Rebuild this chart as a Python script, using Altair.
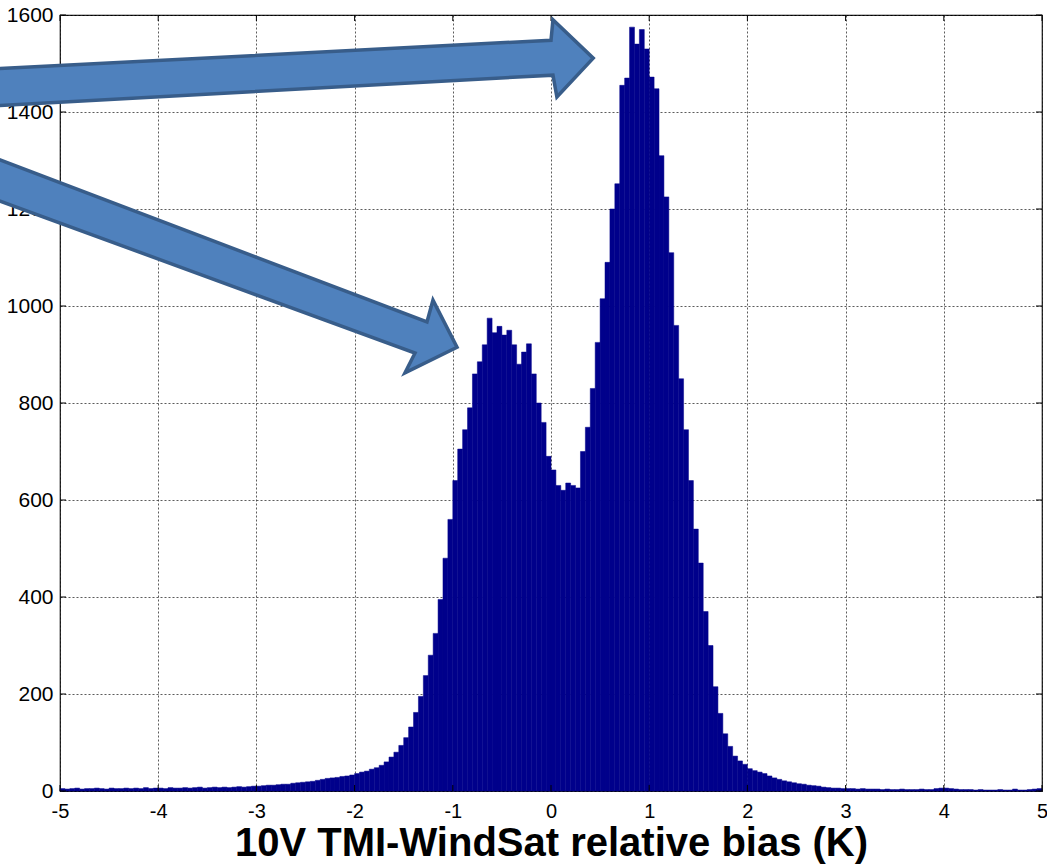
import altair as alt
import pandas as pd

# ---- data ----
BIN_LO = -5.0
BIN_W = 0.05
counts = (
    [5, 4, 5, 6, 4, 5, 5, 6, 5, 4, 6, 5, 5, 6, 5, 6, 5, 7, 5, 6]            # -5 .. -4
    + [6, 5, 7, 6, 6, 7, 6, 7, 8, 6, 7, 8, 7, 8, 7, 8, 9, 8, 9, 10]         # -4 .. -3
    + [10, 11, 12, 12, 13, 14, 14, 16, 17, 18]                              # -3 .. -2.5
    + [19, 20, 22, 24, 26, 27, 28, 30, 31, 33]                              # -2.5 .. -2
    + [36, 39, 41, 45, 48, 53, 60, 70, 80, 94]                              # -2 .. -1.5
    + [110, 132, 162, 195, 238, 280, 325, 395, 480, 560]                    # -1.5 .. -1
    + [640, 705, 745, 790, 860, 885, 920, 975, 945, 958]                    # -1 .. -0.5
    + [940, 950, 920, 880, 905, 922, 860, 800, 760, 690]                    # -0.5 .. 0
    + [662, 630, 620, 635, 630, 625, 700, 750, 830, 925]                    # 0 .. 0.5
    + [1015, 1090, 1200, 1252, 1455, 1470, 1575, 1540, 1570, 1530]          # 0.5 .. 1
    + [1472, 1448, 1310, 1225, 1110, 960, 850, 745, 640, 540]               # 1 .. 1.5
    + [470, 370, 300, 215, 160, 118, 92, 72, 62, 55]                        # 1.5 .. 2
    + [46, 42, 39, 36, 31, 27, 24, 21, 19, 17]                              # 2 .. 2.5
    + [15, 14, 12, 11, 10, 8, 7, 6, 6, 5]                                   # 2.5 .. 3
    + [5, 5, 4, 5, 4, 4, 4, 3, 4, 3, 3, 4, 3, 3, 3, 4, 3, 3, 5, 6]          # 3 .. 4
    + [6, 5, 4, 3, 3, 3, 2, 3, 2, 2, 2, 3, 2, 2, 4, 2, 2, 3, 4, 5]          # 4 .. 5
)
x_ticks = [-5, -4, -3, -2, -1, 0, 1, 2, 3, 4, 5]
y_ticks = [0, 200, 400, 600, 800, 1000, 1200, 1400, 1600]
x_title = "10V TMI-WindSat relative bias (K)"

# annotation arrows (data units), closed polygons
arrow_group = ["upper"] * 8 + ["lower"] * 8
arrow_x = [-5.66, 0.00, 0.02, 0.43, 0.06, 0.02, -5.66, -5.66,
           -5.66, -1.263, -1.202, -0.957, -1.487, -1.385, -5.66, -5.66]
arrow_y = [1489, 1548, 1590, 1511, 1431, 1476, 1413, 1489,
           1305, 967, 1012, 915, 862, 903, 1220, 1305]

# ---- tables ----
bins = pd.DataFrame({
    "lo": [BIN_LO + i * BIN_W for i in range(len(counts))],
    "count": counts,
})
bins["hi"] = bins["lo"] + BIN_W
arrows = pd.DataFrame({"g": arrow_group, "ax": arrow_x, "ay": arrow_y,
                       "k": list(range(len(arrow_x)))})
xt = pd.DataFrame({"t": x_ticks})
yt = pd.DataFrame({"t": y_ticks})

W, H = 982, 776
FONT = "Liberation Sans"
xs = alt.Scale(domain=[-5, 5], nice=False, zero=False)
ys = alt.Scale(domain=[0, 1600], nice=False, zero=False)

bars = alt.Chart(bins).mark_rect(color="#00008B", stroke="#00008B", strokeWidth=0.5).encode(
    x=alt.X("lo:Q", scale=xs, title=x_title,
            axis=alt.Axis(values=x_ticks, labelExpr="'' + datum.value")),
    x2="hi:Q",
    y=alt.Y("count:Q", scale=ys, title=None,
            axis=alt.Axis(values=y_ticks, labelExpr="'' + datum.value")),
    y2=alt.datum(0),
)

tick_bottom = alt.Chart(xt).mark_rule(color="black", strokeWidth=1).encode(
    x=alt.X("t:Q", scale=xs, title=x_title), y=alt.value(H), y2=alt.value(H - 6))
tick_top = alt.Chart(xt).mark_rule(color="black", strokeWidth=1).encode(
    x=alt.X("t:Q", scale=xs, title=x_title), y=alt.value(0), y2=alt.value(6))
tick_left = alt.Chart(yt).mark_rule(color="black", strokeWidth=1).encode(
    y=alt.Y("t:Q", scale=ys, title=None), x=alt.value(0), x2=alt.value(6))
tick_right = alt.Chart(yt).mark_rule(color="black", strokeWidth=1).encode(
    y=alt.Y("t:Q", scale=ys, title=None), x=alt.value(W), x2=alt.value(W - 6))

arrow_layer = alt.Chart(arrows).mark_line(
    fill="#4F81BD", stroke="#385D8A", strokeWidth=3.5, strokeJoin="miter", clip=False
).encode(
    x=alt.X("ax:Q", scale=xs, title=x_title),
    y=alt.Y("ay:Q", scale=ys, title=None),
    detail="g:N",
    order="k:Q",
)

chart = alt.layer(bars, tick_bottom, tick_top, tick_left, tick_right, arrow_layer).properties(
    width=W, height=H,
    autosize=alt.AutoSizeParams(type="none"),
    padding={"left": 60, "top": 15, "right": 5, "bottom": 77},
    background="white",
).configure_view(
    stroke="black", strokeWidth=1.2
).configure_axis(
    ticks=False, domain=False, labelFont=FONT, labelColor="black", labelFlush=False,
    grid=True, gridColor="#333333", gridDash=[2, 2], gridOpacity=0.8, gridWidth=1,
    titleFont=FONT, titleColor="black",
).configure_axisX(
    labelFontSize=20, labelPadding=10, titleFontSize=40, titleFontWeight="bold",
    titlePadding=2,
).configure_axisY(
    labelFontSize=21, labelPadding=7,
)

chart.save("out.html", embed_options={"renderer": "svg", "actions": False})
